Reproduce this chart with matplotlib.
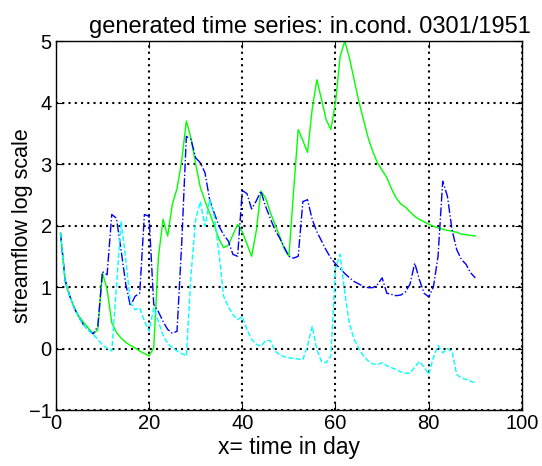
import numpy as np
import matplotlib.pyplot as plt

plt.rcParams['font.family'] = ['Liberation Sans', 'DejaVu Sans']

# giorni 1..90
dias = np.arange(1, 91)

verde = [1.88, 1.08, 0.85, 0.66, 0.52, 0.42, 0.33, 0.24, 0.30, 1.23,
         0.96, 0.42, 0.26, 0.17, 0.10, 0.05, 0.01, -0.04, -0.08, -0.12,
         0.01, 1.48, 2.10, 1.83, 2.35, 2.60, 3.05, 3.70, 3.42, 3.00,
         2.62, 2.40, 2.20, 2.00, 1.78, 1.64, 1.68, 1.85, 2.02, 1.90,
         1.70, 1.50, 1.91, 2.56, 2.45, 2.22, 2.02, 1.83, 1.62, 1.50,
         2.55, 3.56, 3.38, 3.19, 3.89, 4.37, 4.05, 3.72, 3.56, 4.00,
         4.75, 5.00, 4.72, 4.37, 4.02, 3.72, 3.43, 3.20, 3.02, 2.90,
         2.78, 2.60, 2.45, 2.35, 2.30, 2.22, 2.15, 2.10, 2.06, 2.02,
         1.99, 1.96, 1.94, 1.92, 1.91, 1.89, 1.86, 1.85, 1.84, 1.83]

azul = [1.88, 1.12, 0.85, 0.65, 0.50, 0.38, 0.30, 0.24, 0.36, 1.25,
        1.20, 2.18, 2.12, 1.60, 1.05, 0.69, 0.85, 0.90, 2.18, 2.15,
        0.72, 0.60, 0.44, 0.31, 0.25, 0.28, 1.70, 3.45, 3.40, 3.10,
        3.02, 2.86, 2.42, 2.20, 1.99, 1.85, 1.75, 1.53, 1.50, 2.57,
        2.52, 2.27, 2.40, 2.56, 2.31, 2.12, 1.93, 1.80, 1.65, 1.50,
        1.47, 1.50, 2.39, 2.42, 2.10, 1.90, 1.75, 1.60, 1.47, 1.38,
        1.30, 1.22, 1.15, 1.09, 1.05, 1.01, 0.99, 0.99, 1.04, 1.15,
        0.90, 0.88, 0.86, 0.87, 0.92, 1.05, 1.39, 1.12, 0.90, 0.84,
        1.00, 1.50, 2.72, 2.48, 1.93, 1.61, 1.45, 1.37, 1.23, 1.15]

ciano = [1.88, 1.10, 0.85, 0.65, 0.50, 0.38, 0.30, 0.23, 0.15, 0.06,
         0.00, -0.04, 1.00, 2.07, 1.45, 0.75, 0.63, 0.66, 0.45, 0.28,
         0.66, 0.44, 0.22, 0.08, 0.02, -0.04, -0.08, -0.12, 1.20, 2.10,
         2.39, 1.99, 2.42, 2.15, 1.55, 0.85, 0.68, 0.55, 0.47, 0.52,
         0.31, 0.15, 0.07, 0.04, 0.13, 0.13, -0.04, -0.10, -0.13, -0.15,
         -0.16, -0.17, -0.18, 0.05, 0.36, -0.02, -0.21, -0.23, -0.12, 1.30,
         1.53, 0.90, 0.40, 0.15, 0.00, -0.12, -0.20, -0.25, -0.26, -0.23,
         -0.28, -0.31, -0.34, -0.38, -0.40, -0.40, -0.30, -0.21, -0.30, -0.42,
         -0.15, 0.05, -0.07, 0.00, -0.05, -0.42, -0.48, -0.50, -0.53, -0.56]

xticks = [0, 20, 40, 60, 80, 100]
yticks = [-1, 0, 1, 2, 3, 4, 5]

fig = plt.figure(figsize=(5.42, 4.66), dpi=100)
ax = fig.add_axes([0.103, 0.12, 0.86, 0.792])

ax.plot(dias, verde, color='#00ff00', lw=1.0, ls='-')
ax.plot(dias, azul, color='#0000ff', lw=1.0, ls='-.')
ax.plot(dias, ciano, color='#00ffff', lw=1.0, ls='--')

ax.set_xlim(0, 100)
ax.set_ylim(-1, 5)
ax.set_xticks(xticks)
ax.set_yticks(yticks)
ax.grid(True, color='black', ls=(0, (1, 2)), lw=1.5)
ax.tick_params(direction='in', top=True, right=True, labelsize=14.5,
               length=5, pad=3)
for s in ax.spines.values():
    s.set_linewidth(1.0)

ax.set_xlabel('x= time in day', fontsize=16.5, labelpad=2)
ax.set_ylabel('streamflow log scale', fontsize=15.5, labelpad=-3)
ax.set_title('generated time series: in.cond. 0301/1951', fontsize=17,
             x=0.545, pad=6)

fig.savefig('out.png', dpi=100)
